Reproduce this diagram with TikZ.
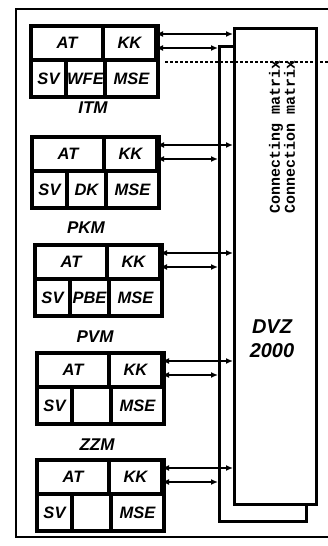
\documentclass[tikz,border=0pt]{standalone}
\usepackage{fontspec}
\setsansfont{Liberation Sans}
\setmonofont{Liberation Mono}
\usetikzlibrary{arrows.meta}
\begin{document}
\begin{tikzpicture}[x=1pt, y=-1pt,
    cell/.style={draw, line width=2pt, inner sep=0pt, anchor=north west,
      font=\sffamily\bfseries\itshape\fontsize{16.5}{16}\selectfont},
    label/.style={font=\sffamily\bfseries\itshape\fontsize{17}{17}\selectfont},
    link/.style={line width=2pt, {Latex[length=7pt,width=6pt]}-{Latex[length=7pt,width=6pt]}}]
    \useasboundingbox (0,0) rectangle (328,546);
    \draw[line width=2.6pt] (328,9) -- (16,9) -- (16,537) -- (328,537);
    \begin{scope}[line width=2.8pt, anchor=north west, inner sep=0pt]
      \node[draw, minimum width=87pt, minimum height=475pt] (back) at
      (218,45) {}; \node[draw, fill=white, minimum width=82pt, minimum
      height=476pt] (dvz) at (233,27) {};
    \end{scope}
    \node[rotate=90, align=center, font=\ttfamily\bfseries\fontsize{15}{13.5}\selectfont]
    (conn) at (282,137) {Connecting matrix\\Connection matrix};
    \node[align=center, font=\sffamily\bfseries\itshape\fontsize{20}{24}\selectfont]
    (dvzname) at (272,339) {DVZ\\2000};
    \draw[line width=1.8pt, densely dashed] (165,62) coordinate (cut) -- (328,62);
    \foreach \n/\x/\y/\mid in {1/31/26/WFE, 2/32/137/DK, 3/35/245/PBE,
      4/37/353/{}, 5/37/460/{}} {
      \node[cell, minimum width=70pt, minimum height=32pt] (at\n) at
      (\x,\y) {AT}; \node[cell, minimum width=51pt, minimum
      height=32pt] (kk\n) at (at\n.north east) {KK}; \node[cell,
      minimum width=33pt, minimum height=35pt] (sv\n) at
      (at\n.south west) {SV}; \node[cell, minimum width=37pt, minimum
      height=35pt] (mid\n) at (sv\n.north east) {\mid}; \node[cell,
      minimum width=51pt, minimum height=35pt] (mse\n) at
      (mid\n.north east) {MSE};
      \draw[line width=3.4pt] (at\n.north west) rectangle (mse\n.south east);
      \draw[link] ([yshift=9pt]kk\n.east) -- ([yshift=9pt]kk\n.east -| dvz.west);
      \draw[link] ([yshift=-5pt]kk\n.east) -- ([yshift=-5pt]kk\n.east -| back.west);
    }
    \node[label] (itm) at (93,108) {ITM}; \node[label] (pkm) at
    (86,228) {PKM}; \node[label] (pvm) at (95,337) {PVM};
    \node[label] (zzm) at (97,445) {ZZM};
  \end{tikzpicture}
\end{document}
